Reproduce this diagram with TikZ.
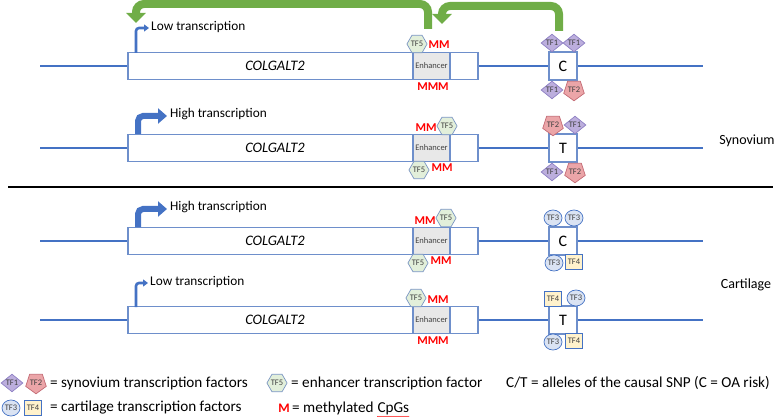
\documentclass[tikz,border=0pt]{standalone}
\usepackage{fontspec}
\setmainfont{Carlito}
\usetikzlibrary{shapes.geometric,arrows.meta,decorations.pathmorphing}
\definecolor{dnablue}{HTML}{4472C4}
\definecolor{boxblue}{HTML}{6E8FCB}
\definecolor{arrgreen}{HTML}{70AD47}
\definecolor{enhgray}{HTML}{E8E8E8}
\definecolor{mred}{HTML}{FF0000}
\definecolor{tfonefill}{HTML}{BCAEDD}
\definecolor{tfonedraw}{HTML}{8E80C4}
\definecolor{tftwofill}{HTML}{EBA5A8}
\definecolor{tftwodraw}{HTML}{C36A74}
\definecolor{tfthreefill}{HTML}{DAE3F3}
\definecolor{tffourfill}{HTML}{FFF2CC}
\definecolor{tffivefill}{HTML}{E2EFDA}
\definecolor{tffivedraw}{HTML}{7A95C2}
\definecolor{tftext}{HTML}{404040}
\begin{document}
\begin{tikzpicture}[x=1pt,y=-1pt,
  dna/.style={draw=dnablue, line width=2.4pt},
  genebox/.style={draw=boxblue, line width=1.1pt, fill=white, minimum width=350pt, minimum height=27pt, inner sep=0pt},
  enhbox/.style={draw=boxblue, line width=1.1pt, fill=enhgray, minimum width=37pt, minimum height=27pt, inner sep=0pt, font=\fontsize{8.5}{9}\selectfont, text=tftext},
  genename/.style={font=\fontsize{14.5}{16}\selectfont\itshape},
  snpbox/.style={draw=boxblue, line width=1.1pt, fill=white, minimum width=28pt, minimum height=28pt, inner sep=0pt, font=\fontsize{16}{18}\selectfont},
  tfbase/.style={inner sep=0pt, line width=0.7pt, font=\fontsize{8.5}{9}\selectfont, text=tftext},
  tfone/.style={tfbase, shape=diamond, draw=tfonedraw, fill=tfonefill, minimum width=22pt, minimum height=17pt},
  tftwo/.style={tfbase, shape=regular polygon, regular polygon sides=5, shape border rotate=180, draw=tftwodraw, fill=tftwofill, minimum size=20pt},
  tfthree/.style={tfbase, shape=ellipse, draw=dnablue, fill=tfthreefill, minimum width=18pt, minimum height=16pt},
  tffour/.style={tfbase, shape=rectangle, draw=dnablue, fill=tffourfill, minimum width=17pt, minimum height=15pt},
  tffive/.style={tfbase, shape=regular polygon, regular polygon sides=6, draw=tffivedraw, fill=tffivefill, minimum size=20pt},
  meth/.style={inner sep=0pt, text=mred, font=\fontsize{12}{13}\selectfont\bfseries},
  translabel/.style={anchor=west, inner sep=0pt, font=\fontsize{13.3}{15}\selectfont},
  lowarr/.style={draw=dnablue, line width=2.6pt, rounded corners=3pt, -{Triangle[width=7pt,length=5pt]}},
  higharr/.style={draw=dnablue, line width=6pt, rounded corners=5pt, -{Triangle[width=15pt,length=9pt]}},
  garrow/.style={draw=arrgreen, line width=8pt, rounded corners=8pt, -{Triangle[width=19pt,length=10pt]}},
  tissue/.style={font=\fontsize{14}{16}\selectfont},
  legtext/.style={anchor=west, inner sep=0pt, font=\fontsize{15.2}{17}\selectfont}
]
\useasboundingbox (0,0) rectangle (777,417);

% ---------- Row 1 (synovium, C) ----------
\coordinate (la) at (40,66); \coordinate (ra) at (703,66);
\node[genebox] (ga) at (303,66) {};
\node[enhbox] (ea) at (431.5,66) {Enhancer};
\node[genename] (na) at (275,66) {COLGALT2};
\node[snpbox] (sa) at (563,66) {C};
\draw[dna] (la) -- (ga.west);
\draw[dna] (ga.east) -- (sa.west);
\draw[dna] (sa.east) -- (ra);
\node[tffive] (ha1) at (417,44) {TF5};
\node[meth] (ma1) at (439,45) {MM};
\node[meth] (ma2) at (433,87) {MMM};
\node[tfone] (ta1) at (552,43) {TF1};
\node[tfone] (ta2) at (574,43) {TF1};
\node[tfone] (ta3) at (552,90) {TF1};
\node[tftwo] (ta4) at (574,90) {TF2};
\coordinate (pa0) at (136,53); \coordinate (pa1) at (149,28);
\draw[lowarr] (pa0) |- (pa1);
\node[translabel] (xa) at (151,27) {Low transcription};
% green arrows
\coordinate (gs1) at (428,29); \coordinate (gc1) at (428,4); \coordinate (gc2) at (136,4); \coordinate (ge1) at (136,23);
\draw[garrow] (gs1) -- (gc1) -- (gc2) -- (ge1);
\coordinate (gs2) at (559,31); \coordinate (gc3) at (559,6); \coordinate (gc4) at (442,6); \coordinate (ge2) at (442,24);
\draw[garrow] (gs2) -- (gc3) -- (gc4) -- (ge2);

% ---------- Row 2 (synovium, T) ----------
\coordinate (lb) at (40,148); \coordinate (rb) at (703,148);
\node[genebox] (gb) at (303,148) {};
\node[enhbox] (eb) at (431.5,148) {Enhancer};
\node[genename] (nb) at (275,148) {COLGALT2};
\node[snpbox] (sb) at (563,148) {T};
\draw[dna] (lb) -- (gb.west);
\draw[dna] (gb.east) -- (sb.west);
\draw[dna] (sb.east) -- (rb);
\node[meth] (mb1) at (426,128) {MM};
\node[tffive] (hb1) at (447,126) {TF5};
\node[tffive] (hb2) at (419,170) {TF5};
\node[meth] (mb2) at (442,168) {MM};
\node[tftwo] (tb1) at (553,125) {TF2};
\node[tfone] (tb2) at (575,125) {TF1};
\node[tfone] (tb3) at (552,172) {TF1};
\node[tftwo] (tb4) at (575,172) {TF2};
\coordinate (pb0) at (138,134); \coordinate (pb1) at (167,116);
\draw[higharr] (pb0) |- (pb1);
\node[translabel] (xb) at (170,114) {High transcription};

% ---------- divider & tissue labels ----------
\coordinate (dl) at (8,187); \coordinate (dr) at (773,187);
\draw[line width=2pt, black] (dl) -- (dr);
\node[tissue] (syn) at (747,141) {Synovium};
\node[tissue] (car) at (746,285) {Cartilage};

% ---------- Row 3 (cartilage, C) ----------
\coordinate (lc) at (40,241); \coordinate (rc) at (703,241);
\node[genebox] (gc) at (303,241) {};
\node[enhbox] (ec) at (431.5,241) {Enhancer};
\node[genename] (nc) at (275,241) {COLGALT2};
\node[snpbox] (sc) at (563,241) {C};
\draw[dna] (lc) -- (gc.west);
\draw[dna] (gc.east) -- (sc.west);
\draw[dna] (sc.east) -- (rc);
\node[meth] (mc1) at (425,221) {MM};
\node[tffive] (hc1) at (446,218) {TF5};
\node[tffive] (hc2) at (418,263) {TF5};
\node[meth] (mc2) at (441,261) {MM};
\node[tfthree] (tc1) at (553,218) {TF3};
\node[tfthree] (tc2) at (574,218) {TF3};
\node[tfthree] (tc3) at (554,263) {TF3};
\node[tffour] (tc4) at (574,262) {TF4};
\coordinate (pc0) at (138,227); \coordinate (pc1) at (167,209);
\draw[higharr] (pc0) |- (pc1);
\node[translabel] (xc) at (170,207) {High transcription};

% ---------- Row 4 (cartilage, T) ----------
\coordinate (ld) at (40,320); \coordinate (rd) at (703,320);
\node[genebox] (gd) at (303,320) {};
\node[enhbox] (ed) at (431.5,320) {Enhancer};
\node[genename] (nd) at (275,320) {COLGALT2};
\node[snpbox] (sd) at (563,320) {T};
\draw[dna] (ld) -- (gd.west);
\draw[dna] (gd.east) -- (sd.west);
\draw[dna] (sd.east) -- (rd);
\node[tffive] (hd1) at (416,298) {TF5};
\node[meth] (md1) at (438,300) {MM};
\node[meth] (md2) at (433,341) {MMM};
\node[tffour] (td1) at (553,299) {TF4};
\node[tfthree] (td2) at (576,298) {TF3};
\node[tfthree] (td3) at (553,342) {TF3};
\node[tffour] (td4) at (574,341) {TF4};
\coordinate (pd0) at (136,307); \coordinate (pd1) at (148,283);
\draw[lowarr] (pd0) |- (pd1);
\node[translabel] (xd) at (150,282) {Low transcription};

% ---------- legend ----------
\node[tfone] (k1) at (12,383) {TF1};
\node[tftwo] (k2) at (36,383) {TF2};
\node[legtext] (k3) at (50,383) {= synovium transcription factors};
\node[tffive] (k4) at (277,383) {TF5};
\node[legtext] (k5) at (291,383) {= enhancer transcription factor};
\node[legtext] (k6) at (506,383) {C/T = alleles of the causal SNP (C = OA risk)};
\node[tfthree] (k7) at (11,408) {TF3};
\node[tffour] (k8) at (33,408) {TF4};
\node[legtext] (k9) at (50,408) {= cartilage transcription factors};
\node[meth, font=\fontsize{13}{14}\selectfont\bfseries] (k10) at (284,408) {M};
\node[legtext] (k11) at (292,408) {= methylated};
\node[legtext, anchor=base west, xshift=3.5pt] (k12) at (k11.base east) {CpGs};
\draw[mred, line width=0.4pt, decorate, decoration={snake, amplitude=0.6pt, segment length=2pt}] ([yshift=-2pt]k12.south west) -- ([yshift=-2pt]k12.south east);
\end{tikzpicture}
\end{document}
